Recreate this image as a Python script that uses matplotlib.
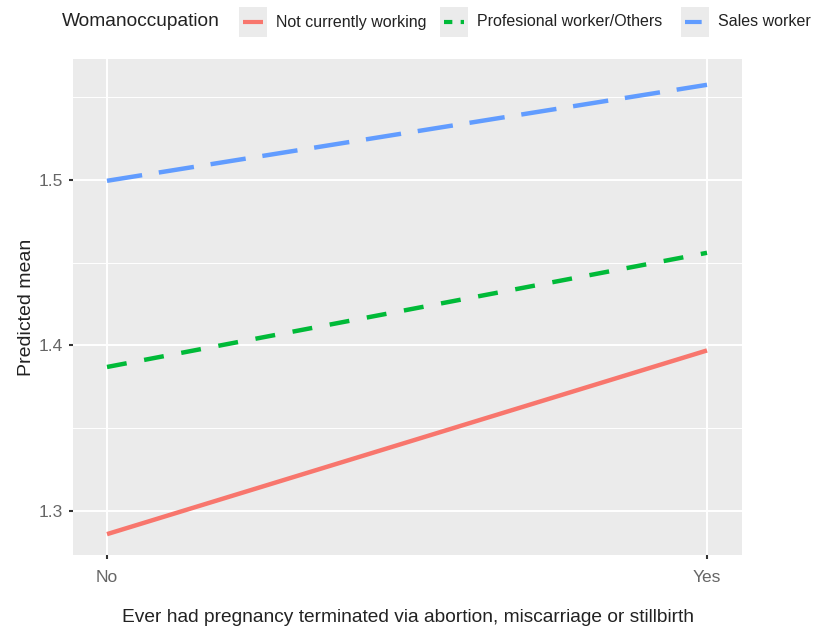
import matplotlib
matplotlib.use("Agg")
import matplotlib.pyplot as plt
from matplotlib.lines import Line2D
from matplotlib.patches import Rectangle
import numpy as np

plt.rcParams['font.family'] = ['Liberation Sans', 'DejaVu Sans']

categories = ["No", "Yes"]
groups = ["Not currently working", "Profesional worker/Others", "Sales worker"]
not_working = [1.286, 1.397]
professional = [1.387, 1.456]
sales = [1.4995, 1.5575]
colors = ["#F8766D", "#00BA38", "#619CFF"]
styles = [(0, ()), (0, (4.5, 4.0)), (0, (8.0, 3.8))]
key_styles = [(0, ()), (0, (2.0, 2.0)), (0, (4.0, 2.0))]

fig = plt.figure(figsize=(8.19, 6.33), dpi=100)
ax = fig.add_axes([73 / 819, 1 - 555 / 633, (742 - 73) / 819, (555 - 59) / 633])
ax.set_facecolor("#EBEBEB")

x = np.arange(len(categories))
for vals, c, ls in zip([not_working, professional, sales], colors, styles):
    ax.plot(x, vals, color=c, lw=3.2, linestyle=ls, solid_capstyle="butt", dash_capstyle="butt", zorder=3)

ax.set_xlim(-34 / 600, 1 + 35 / 600)
ax.set_ylim(1.2734, 1.5731)
ax.set_xticks(x)
ax.set_xticklabels(categories)
ax.set_yticks([1.3, 1.4, 1.5])
ax.set_yticks([1.35, 1.45, 1.55], minor=True)
ax.grid(which="major", color="white", lw=1.4, zorder=1)
ax.grid(which="minor", axis="y", color="white", lw=0.7, zorder=1)
ax.set_axisbelow(True)
for s in ax.spines.values():
    s.set_visible(False)
ax.tick_params(which="major", length=3, width=1.5, color="#333333", labelcolor="#666666", labelsize=12.5)
ax.tick_params(axis="x", pad=8)
ax.tick_params(axis="y", pad=4)
ax.tick_params(which="minor", length=0)

ax.set_xlabel("Ever had pregnancy terminated via abortion, miscarriage or stillbirth", fontsize=13.8, color="#222222", labelpad=17)
ax.set_ylabel("Predicted mean", fontsize=14, color="#222222", labelpad=3)

# legend across the top
ly = 1 - 22 / 633
fig.text(62 / 819, ly, "Womanoccupation", fontsize=13.8, color="#222222", va="center", ha="left")
key_x = [239, 440, 681]
for kx, label, c, ls in zip(key_x, groups, colors, key_styles):
    fig.patches.append(Rectangle((kx / 819, ly - 15 / 633), 28 / 819, 30 / 633,
                                 transform=fig.transFigure, facecolor="#EBEBEB", edgecolor="none"))
    fig.lines.append(Line2D([(kx + 4) / 819, (kx + 24) / 819], [ly, ly], transform=fig.transFigure,
                            color=c, lw=3.0, linestyle=ls, dash_capstyle="butt"))
    fig.text((kx + 37) / 819, ly, label, fontsize=11.5, color="#222222", va="center", ha="left")

fig.savefig("out.png", dpi=100)
